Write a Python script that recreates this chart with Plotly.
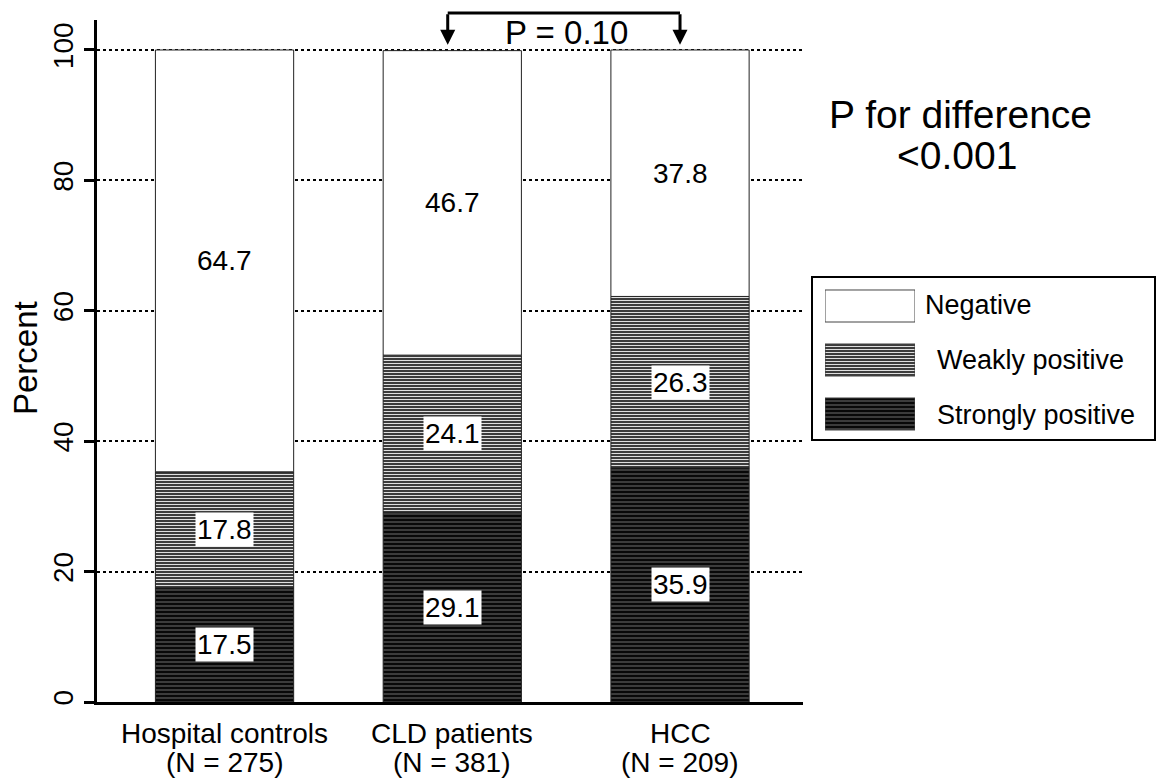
import plotly.graph_objects as go

# ---------------- data ----------------
categories = ["Hospital controls", "CLD patients", "HCC"]
n_values = [275, 381, 209]
strongly = [17.5, 29.1, 35.9]
weakly = [17.8, 24.1, 26.3]
negative = [64.7, 46.7, 37.8]
series_names = ["Strongly positive", "Weakly positive", "Negative"]
y_ticks = [0, 20, 40, 60, 80, 100]
p_pair = "P = 0.10"
p_overall = ["P for difference", "<0.001"]

# ---------------- geometry helpers ----------------
W, H = 1159, 779
ML, MR, MT, MB = 97, 0, 20, 77
PW, PH = W - ML - MR, H - MT - MB


def px(xp):
    return (xp - ML) / PW


def py(yp):
    return (H - MB - yp) / PH


FONT = "Liberation Sans, Arial, sans-serif"

styles = {
    "Strongly positive": dict(bgcolor="#080808", fgcolor="#b0b0b0", fgopacity=0.5,
                              shape="-", size=4, solidity=0.3, fillmode="replace"),
    "Weakly positive": dict(bgcolor="#2a2a2a", fgcolor="#ffffff", fgopacity=0.85,
                            shape="-", size=3, solidity=0.4, fillmode="replace"),
    "Negative": None,
}

fig = go.Figure()
xs = list(range(len(categories)))
values = {"Strongly positive": strongly, "Weakly positive": weakly, "Negative": negative}

bases = [0.0] * len(categories)
label_annos = []
for name in series_names:
    vals = values[name]
    st = styles[name]
    marker = dict(color="white" if st is None else st["bgcolor"],
                  line=dict(color="#222222", width=1))
    if st is not None:
        marker["pattern"] = st
    fig.add_trace(go.Bar(x=xs, y=vals, base=bases, width=0.607, marker=marker,
                         name=name, showlegend=False, hoverinfo="skip"))
    for i, v in enumerate(vals):
        label_annos.append(dict(x=i, y=bases[i] + v / 2, xref="x", yref="y",
                                text=f"{v:.1f}", showarrow=False,
                                font=dict(size=28, color="black", family=FONT),
                                bgcolor="white", borderpad=1,
                                xanchor="center", yanchor="middle"))
    bases = [b + v for b, v in zip(bases, vals)]

# ---------------- legend swatches (auxiliary axes) ----------------
legend_order = ["Negative", "Weakly positive", "Strongly positive"]
for k, name in enumerate(legend_order):
    st = styles[name]
    marker = dict(color="white" if st is None else st["bgcolor"],
                  line=dict(color="#444444", width=1))
    if st is not None:
        marker["pattern"] = st
    fig.add_trace(go.Bar(x=[1], y=[len(legend_order) - 1 - k], base=[0], orientation="h",
                         width=0.593, marker=marker, xaxis="x2", yaxis="y2",
                         showlegend=False, hoverinfo="skip"))

annos = list(label_annos)

# category labels (two lines each)
for i, (c, n) in enumerate(zip(categories, n_values)):
    annos.append(dict(x=i, xref="x", y=0, yref="paper", yshift=-31, text=c,
                      showarrow=False, font=dict(size=28, family=FONT, color="black"),
                      xanchor="center", yanchor="middle"))
    annos.append(dict(x=i, xref="x", y=0, yref="paper", yshift=-60, text=f"(N = {n})",
                      showarrow=False, font=dict(size=28, family=FONT, color="black"),
                      xanchor="center", yanchor="middle"))

# y axis title
annos.append(dict(x=px(25), y=py(358), xref="paper", yref="paper", text="Percent",
                  textangle=-90, showarrow=False, font=dict(size=33, family=FONT, color="black"),
                  xanchor="center", yanchor="middle"))

# overall P text
annos.append(dict(x=px(960), y=py(115), xref="paper", yref="paper", text=p_overall[0],
                  showarrow=False, font=dict(size=39, family=FONT, color="black"),
                  xanchor="center", yanchor="middle"))
annos.append(dict(x=px(957), y=py(155), xref="paper", yref="paper", text=p_overall[1],
                  showarrow=False, font=dict(size=39, family=FONT, color="black"),
                  xanchor="center", yanchor="middle"))

# legend texts
leg_text_pos = [(923, 305), (935, 360), (935, 415)]
for name, (lx, ly) in zip(legend_order, leg_text_pos):
    annos.append(dict(x=px(lx), y=py(ly), xref="paper", yref="paper", text=name,
                      showarrow=False, font=dict(size=27, family=FONT, color="black"),
                      xanchor="left", yanchor="middle"))

# bracket arrows CLD vs HCC
arrow_x = [0.98, 2.0]
for ax_ in arrow_x:
    annos.append(dict(x=ax_, y=100.8, xref="x", yref="y", text="", showarrow=True,
                      ax=0, ay=-32, axref="pixel", ayref="pixel", arrowhead=2,
                      arrowsize=1, arrowwidth=3, arrowcolor="black"))
annos.append(dict(x=1.5, xref="x", y=py(33), yref="paper", text=p_pair, showarrow=False,
                  font=dict(size=33, family=FONT, color="black"),
                  xanchor="center", yanchor="middle"))

shapes = [
    dict(type="line", xref="x", yref="paper", x0=arrow_x[0], x1=arrow_x[1],
         y0=py(13), y1=py(13), line=dict(color="black", width=3)),
    dict(type="rect", xref="paper", yref="paper", x0=px(812), x1=px(1155),
         y0=py(440), y1=py(277), line=dict(color="black", width=2)),
]

fig.update_layout(
    width=W, height=H,
    margin=dict(l=ML, r=MR, t=MT, b=MB, autoexpand=False),
    paper_bgcolor="white", plot_bgcolor="white",
    barmode="overlay",
    font=dict(family=FONT, color="black"),
    xaxis=dict(domain=[0, px(803)], range=[-0.56, 2.54], showgrid=False, zeroline=False,
               showline=True, linecolor="black", linewidth=3, ticks="",
               showticklabels=False, fixedrange=True),
    yaxis=dict(range=[0, 104.6], tickvals=y_ticks, ticktext=[str(t) for t in y_ticks],
               tickangle=-90, tickfont=dict(size=28, family=FONT, color="black"),
               showgrid=True, gridcolor="black", gridwidth=2, griddash="dot",
               zeroline=False, showline=True, linecolor="black", linewidth=3,
               ticks="outside", ticklen=10, tickwidth=3, tickcolor="black"),
    xaxis2=dict(domain=[px(825), px(915)], range=[0, 1], visible=False, anchor="y2",
                fixedrange=True),
    yaxis2=dict(domain=[py(441), py(279)], range=[-0.5, 2.5], visible=False, anchor="x2",
                fixedrange=True),
    annotations=annos,
    shapes=shapes,
    showlegend=False,
)

fig.write_html("out.html")
